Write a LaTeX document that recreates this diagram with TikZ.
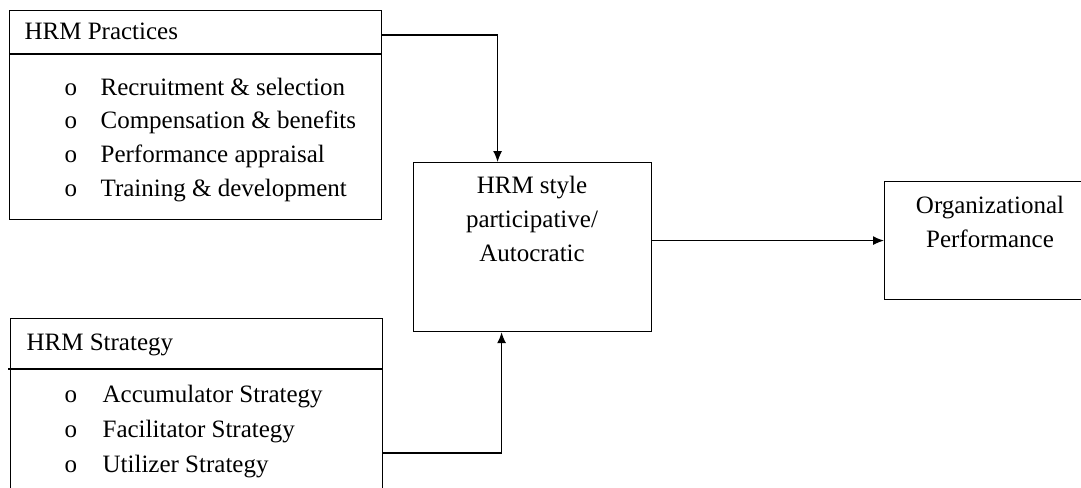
\documentclass[tikz,border=0pt]{standalone}
\usepackage{fontspec}
\setmainfont{Liberation Serif}
\usetikzlibrary{arrows.meta, positioning, calc}

\begin{document}
\begin{tikzpicture}[>={Latex[length=11pt,width=9pt]}, x=1pt, y=-1pt, line width=1.2pt,
    box/.style={draw, rectangle, inner sep=0pt, anchor=north west},
    txt/.style={inner sep=0pt, anchor=base west, font=\fontsize{25}{34}\selectfont},
    ctxt/.style={inner sep=0pt, anchor=north, align=center, font=\fontsize{25}{34}\selectfont}]
  \useasboundingbox (0,0) rectangle (1081,487);

  % left boxes
  \node[box, minimum width=372pt, minimum height=209pt] (practices) at (9,10) {};
  \node[box, minimum width=372pt, minimum height=200pt] (strategy) at (10,318) {};
  \draw ([yshift=-44pt]practices.north west) -- ([yshift=-44pt]practices.north east);
  \draw ([yshift=-51pt,xshift=-2pt]strategy.north west) -- ([yshift=-51pt]strategy.north east);
  \node[txt] (practicestitle) at (24,40) {HRM Practices};
  \node[txt] (strategytitle) at (26,350) {HRM Strategy};
  \foreach \t [count=\i] in {Recruitment \& selection, Compensation \& benefits,
      Performance appraisal, Training \& development} {
    \node[txt] (pb\i) at (64,{61.3+33.7*\i}) {o};
    \node[txt] (p\i) at (100,{61.3+33.7*\i}) {\t};
  }
  \foreach \t [count=\i] in {Accumulator Strategy, Facilitator Strategy, Utilizer Strategy} {
    \node[txt] (sb\i) at (64,{367+35*\i}) {o};
    \node[txt] (s\i) at (102,{367+35*\i}) {\t};
  }

  % middle and right
  \node[box, minimum width=238pt, minimum height=169pt] (style) at (413,162) {};
  \node[ctxt] (styletext) at (532,176) {HRM style\\participative/\\Autocratic};
  \node[box, minimum width=212pt, minimum height=118pt] (perf) at (884,181) {};
  \node[ctxt] (perftext) at (990,196) {Organizational\\Performance};

  % arrows
  \draw[->] ([yshift=-25pt]practices.north east) -| ([xshift=-35pt]style.north);
  \draw[->] ([yshift=-135pt]strategy.north east) -| ([xshift=-31pt]style.south);
  \draw[->] (style.east |- perf.west) -- (perf.west);
\end{tikzpicture}
\end{document}
